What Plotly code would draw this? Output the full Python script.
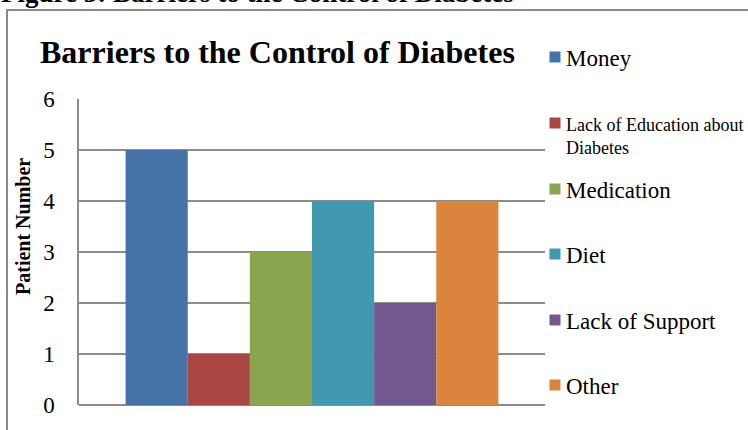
import plotly.graph_objects as go

# Survey results: number of patients naming each barrier
barriers = ["Money", "Lack of Education about Diabetes", "Medication",
            "Diet", "Lack of Support", "Other"]
patients = [5, 1, 3, 4, 2, 4]
colors = ["#4572A7", "#AA4643", "#89A54E", "#4198AF", "#71588F", "#DB843D"]
y_ticks = [0, 1, 2, 3, 4, 5, 6]

SERIF = "Liberation Serif, Times New Roman, serif"
GRID = "#8c8c8c"

# plot-area geometry in pixels (748 x 430 canvas)
W, H = 748, 430
L, R, T, B = 79, 545, 99, 405


def px(x):
    return (x - L) / (R - L)


def py(y):
    return (B - y) / (B - T)


fig = go.Figure()
for name, val, col in zip(barriers, patients, colors):
    fig.add_trace(go.Bar(x=[0], y=[val], name=name, marker_color=col,
                         marker_line_width=0, showlegend=False))

annotations = [
    # figure caption (mostly above the visible page)
    dict(text="<b>Figure 3: Barriers to the Control of Diabetes</b>",
         x=px(-1), y=py(-7), xanchor="left", yanchor="middle",
         font=dict(family=SERIF, size=27, color="black")),
    # chart title
    dict(text="<b>Barriers to the Control of Diabetes</b>",
         x=px(38), y=py(52), xanchor="left", yanchor="middle",
         font=dict(family=SERIF, size=32, color="black")),
    # y-axis title
    dict(text="<b>Patient Number</b>", textangle=-90,
         x=px(23), y=py(227), xanchor="center", yanchor="middle",
         font=dict(family=SERIF, size=20, color="black")),
]

# legend built from the series names and colours
shapes = []
swatch_y = [57, 123, 189, 254, 320, 385]
for name, col, cy in zip(barriers, colors, swatch_y):
    shapes.append(dict(type="rect", xref="paper", yref="paper",
                       x0=px(549.5), x1=px(560.5), y0=py(cy + 5.5), y1=py(cy - 5.5),
                       fillcolor=col, line_width=0))
    if name == "Lack of Education about Diabetes":
        annotations.append(dict(
            text="Lack of Education about<br>Diabetes", x=px(564), y=py(113),
            xanchor="left", yanchor="top", align="left", showarrow=False,
            font=dict(family=SERIF, size=18, color="black")))
    else:
        annotations.append(dict(
            text=name, x=px(564), y=py(cy + 1), xanchor="left", yanchor="middle",
            align="left", showarrow=False,
            font=dict(family=SERIF, size=23, color="black")))

for a in annotations:
    a.setdefault("xref", "paper")
    a.setdefault("yref", "paper")
    a.setdefault("showarrow", False)

# outer frame of the chart
shapes.append(dict(type="rect", xref="paper", yref="paper",
                   x0=px(7), x1=px(W + 20), y0=py(H + 20), y1=py(10),
                   line=dict(color="#8a8a8a", width=2), fillcolor="rgba(0,0,0,0)"))

fig.update_layout(
    width=W, height=H,
    margin=dict(l=L, r=W - R, t=T, b=H - B),
    paper_bgcolor="white", plot_bgcolor="white",
    barmode="group", bargap=0.2, bargroupgap=0,
    showlegend=False,
    annotations=annotations, shapes=shapes,
    xaxis=dict(range=[-0.5, 0.5], showticklabels=False, showgrid=False,
               zeroline=False, showline=False, ticks=""),
    yaxis=dict(range=[0, 6], tickvals=y_ticks, ticktext=[str(v) for v in y_ticks],
               showgrid=True, gridcolor=GRID, gridwidth=2,
               zeroline=True, zerolinecolor=GRID, zerolinewidth=2,
               showline=True, linecolor=GRID, linewidth=1.5,
               ticks="", ticklabelstandoff=18,
               tickfont=dict(family=SERIF, size=23, color="black")),
)

fig.write_html("out.html")
